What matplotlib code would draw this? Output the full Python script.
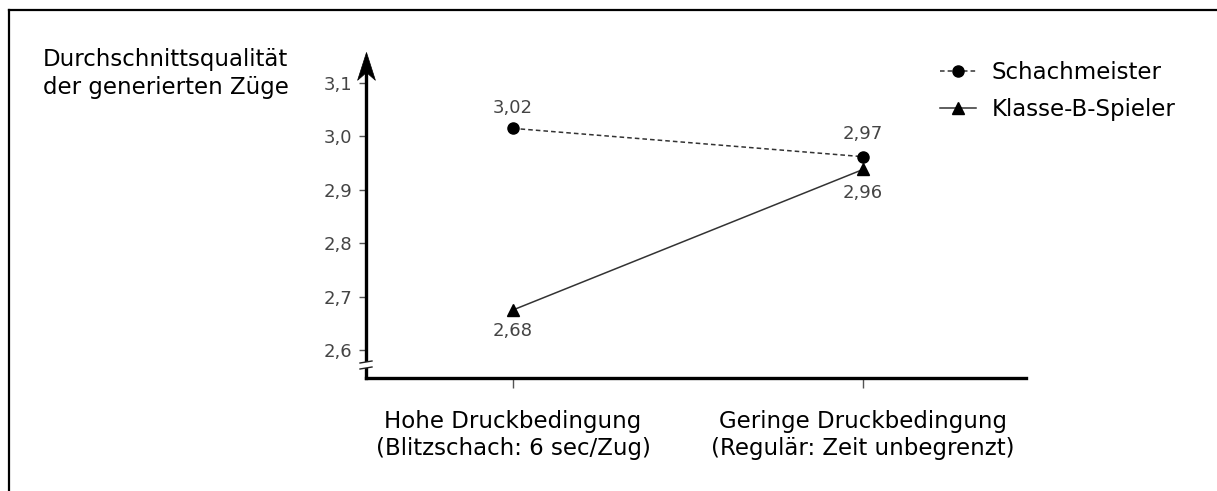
import matplotlib
matplotlib.use("Agg")
import matplotlib.pyplot as plt
from matplotlib.lines import Line2D
from matplotlib.patches import Rectangle
from matplotlib.path import Path

# --- data -----------------------------------------------------------------
conditions = ["Hohe Druckbedingung\n(Blitzschach: 6 sec/Zug)",
              "Geringe Druckbedingung\n(Regulär: Zeit unbegrenzt)"]
schach = [3.015, 2.962]          # Schachmeister (marker positions)
schach_labels = ["3,02", "2,97"]
klasse_b = [2.675, 2.938]        # Klasse-B-Spieler
klasse_b_labels = ["2,68", "2,96"]
yticks = [2.6, 2.7, 2.8, 2.9, 3.0, 3.1]
ytick_labels = ["2,6", "2,7", "2,8", "2,9", "3,0", "3,1"]

W, H = 1217, 491
plt.rcParams["font.family"] = ["DejaVu Sans"]
fig = plt.figure(figsize=(W / 100, H / 100), dpi=100)
fig.patch.set_facecolor("white")

# axes placed in pixels: y axis at x=366, x axis at y=378
ax = fig.add_axes([366 / W, 1 - 378 / H, (1026 - 366) / W, (378 - 52) / H])
ax.set_xlim(-0.42, 1.466)
ax.set_ylim(2.5476, 3.158)

x = range(len(conditions))
ax.plot(x, schach, ls=(0, (3, 2)), lw=1.1, color="#333333", marker="o",
        ms=8, mfc="black", mec="black", label="Schachmeister", zorder=3)
ax.plot(x, klasse_b, ls="-", lw=1.1, color="#333333", marker="^",
        ms=9, mfc="black", mec="black", label="Klasse-B-Spieler", zorder=3)

lab_kw = dict(textcoords="offset points", ha="center", va="center",
              fontsize=13, color="#444444")
ax.annotate(schach_labels[0], (0, schach[0]), xytext=(0, 15), **lab_kw)
ax.annotate(schach_labels[1], (1, schach[1]), xytext=(0, 16), **lab_kw)
ax.annotate(klasse_b_labels[0], (0, klasse_b[0]), xytext=(0, -15), **lab_kw)
ax.annotate(klasse_b_labels[1], (1, klasse_b[1]), xytext=(0, -17), **lab_kw)

# spines / axis arrow
for s in ["top", "right"]:
    ax.spines[s].set_visible(False)
ax.spines["bottom"].set_linewidth(2.4)
ax.spines["left"].set_linewidth(2.4)
ax.spines["left"].set_bounds(2.5476, 3.14)
# stealth-style arrow head on top of the y axis
stealth = Path([(0, 0), (-0.32, -1), (0, -0.72), (0.32, -1), (0, 0)],
               [Path.MOVETO, Path.LINETO, Path.LINETO, Path.LINETO, Path.CLOSEPOLY])
ax.plot([0], [1], marker=stealth, ms=40, color="black", mec="black", mew=0.5,
        transform=ax.transAxes, clip_on=False, zorder=4)

ax.set_yticks(yticks)
ax.set_yticklabels(ytick_labels, fontsize=13, color="#444444")
ax.tick_params(axis="y", direction="out", length=5, width=1, color="#555555", pad=5)
ax.set_xticks(list(x))
ax.set_xticklabels(conditions, fontsize=16.5, color="black", linespacing=1.25)
ax.tick_params(axis="x", direction="out", length=7, width=1, color="#555555", pad=16)

# y axis title, top left
fig.text(43 / W, 1 - 48 / H, "Durchschnittsqualität\nder generierten Züge",
         ha="left", va="top", fontsize=16.5, linespacing=1.3)

ax.legend(loc="upper left", bbox_to_anchor=(940 / W, 1 - 61 / H),
          bbox_transform=fig.transFigure, frameon=False, fontsize=16.5,
          handlelength=1.55, handletextpad=0.7, labelspacing=0.62,
          borderaxespad=0, borderpad=0)

# axis break mark near the bottom of the y axis
bx, by = 366, 365
fig.add_artist(Rectangle(((bx - 5) / W, 1 - (by + 3) / H), 10 / W, 6 / H,
                         transform=fig.transFigure, facecolor="white",
                         edgecolor="none", zorder=5))
for dy in (-3, 3):
    fig.add_artist(Line2D([(bx - 6) / W, (bx + 6) / W],
                          [1 - (by + dy + 1) / H, 1 - (by + dy - 1) / H],
                          color="#222222", lw=1, zorder=6))

# partial outer frame (left and top)
fig.add_artist(Line2D([9 / W, 9 / W], [0, 1 - 10 / H], color="black", lw=1.6))
fig.add_artist(Line2D([9 / W, 1], [1 - 10 / H, 1 - 10 / H], color="black", lw=1.6))

fig.savefig("out.png", dpi=100)
